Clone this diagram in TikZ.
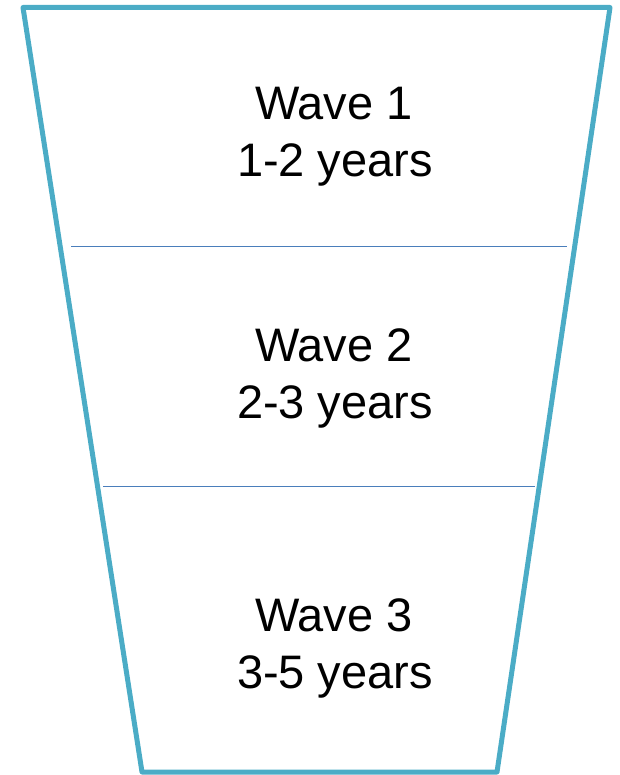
\documentclass[tikz,border=0pt]{standalone}
\usepackage{fontspec}
\setmainfont{Liberation Sans}
\definecolor{funnel}{HTML}{4BACC6}
\definecolor{divider}{HTML}{4A7EBB}
\begin{document}
\begin{tikzpicture}[x=1pt,y=-1pt,
  lbl/.style={font=\fontsize{47}{56}\selectfont, anchor=base, inner sep=0pt, text=black},
  divline/.style={draw=divider, line width=1.5pt},
  funnelline/.style={draw=funnel, line width=5pt, line join=round}]
\useasboundingbox (0,0) rectangle (619,775);
\coordinate (tl) at (23,7.5);
\coordinate (tr) at (610,7.5);
\coordinate (br) at (497,772);
\coordinate (bl) at (142,772);
\draw[funnelline] (tl) -- (tr) -- (br) -- (bl) -- cycle;
\coordinate (d1l) at (71,246.5);
\coordinate (d1r) at (567,246.5);
\coordinate (d2l) at (103,486.5);
\coordinate (d2r) at (535,486.5);
\draw[divline] (d1l) -- (d1r);
\draw[divline] (d2l) -- (d2r);
\node[lbl] (w1a) at (334,119.5) {Wave 1};
\node[lbl] (w1b) at (335,177) {1-2 years};
\node[lbl] (w2a) at (334,361) {Wave 2};
\node[lbl] (w2b) at (335,418) {2-3 years};
\node[lbl] (w3a) at (334,631) {Wave 3};
\node[lbl] (w3b) at (335,688) {3-5 years};
\end{tikzpicture}
\end{document}
